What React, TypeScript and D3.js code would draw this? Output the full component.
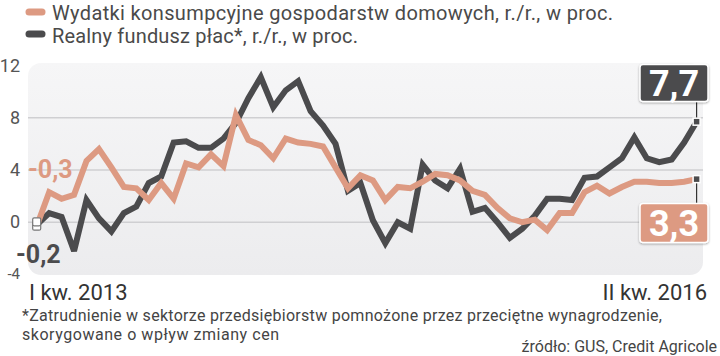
import React from "react";
import * as d3 from "d3";

const legendLabels = [
  "Wydatki konsumpcyjne gospodarstw domowych, r./r., w proc.",
  "Realny fundusz płac*, r./r., w proc.",
];
const yTicks = [12, 8, 4, 0, -4];
const gridTicks = [8, 4, 0];
const xLabels = ["I kw. 2013", "II kw. 2016"];

const consumption = [
  -0.3, 2.3, 1.8, 2.1, 4.7, 5.6, 4.2, 2.7, 2.6, 1.7, 3.0, 1.8, 4.5, 4.2, 5.2,
  4.3, 8.2, 6.3, 5.9, 4.9, 6.4, 6.1, 6.0, 5.8, 4.2, 2.6, 3.6, 3.2, 1.7, 2.7,
  2.6, 3.1, 3.7, 3.6, 3.2, 2.4, 2.1, 1.1, 0.3, 0.0, 0.2, -0.6, 0.7, 0.7, 2.3,
  2.8, 2.2, 2.7, 3.1, 3.1, 3.0, 3.0, 3.1, 3.3,
];
const wages = [
  -0.2, 0.7, 0.4, -2.2, 1.7, 0.3, -0.7, 0.7, 1.2, 3.0, 3.5, 6.1, 6.2, 5.7, 5.7,
  6.4, 7.6, 9.5, 11.1, 8.8, 10.1, 10.8, 8.5, 7.4, 6.0, 2.4, 3.0, 0.15, -1.6,
  0.0, -0.5, 4.4, 3.2, 2.6, 4.1, 0.8, 1.1, 0.0, -1.2, -0.5, 0.5, 1.8, 1.8, 1.7,
  3.4, 3.5, 4.2, 4.9, 6.5, 4.9, 4.6, 4.8, 6.1, 7.7,
];
const startLabels = ["-0,3", "-0,2"];
const endLabels = ["3,3", "7,7"];
const footnote = [
  "*Zatrudnienie w sektorze przedsiębiorstw pomnożone przez przeciętne wynagrodzenie,",
  "skorygowane o wpływ zmiany cen",
];
const source = "źródło: GUS, Credit Agricole";

const ORANGE = "#dd9a82";
const DARK = "#4b4b4d";
const FONT = "'Liberation Sans Narrow', 'Roboto', sans-serif";

export default function App() {
  const W = 720;
  const H = 356;
  const x = d3.scaleLinear().domain([0, consumption.length - 1]).range([36.7, 696.6]);
  const y = d3.scaleLinear().domain([-4, 12]).range([274.5, 65.5]);
  const line = d3
    .line<number>()
    .x((_, i) => x(i))
    .y((d) => y(d))
    .curve(d3.curveLinear);

  const last = consumption.length - 1;
  const plotL = 28;
  const plotR = 703;

  return (
    <svg
      width={W}
      height={H}
      style={{ position: "absolute", left: 0, top: 0, background: "#fff" }}
      fontFamily={FONT}
    >
      <defs>
        <linearGradient id="bg" x1="0" y1="0" x2="0" y2="1">
          <stop offset="0" stopColor="#f6f6f7" />
          <stop offset="1" stopColor="#ececee" />
        </linearGradient>
        <filter id="sh" x="-20%" y="-20%" width="140%" height="150%">
          <feDropShadow dx="0" dy="1" stdDeviation="1.2" floodColor="#000" floodOpacity="0.35" />
        </filter>
      </defs>

      {/* legend */}
      {[ORANGE, DARK].map((c, i) => (
        <g key={i}>
          <line
            x1={29}
            x2={42}
            y1={12 + i * 22}
            y2={12 + i * 22}
            stroke={c}
            strokeWidth={7}
            strokeLinecap="round"
          />
          <text
            x={52}
            y={20 + i * 23}
            fontSize={20}
            fill="#4a4a4a"
            textLength={i === 0 ? 561 : 306}
          >
            {legendLabels[i]}
          </text>
        </g>
      ))}

      {/* plot background */}
      <rect x={plotL} y={63} width={plotR - plotL} height={212} rx={13} fill="url(#bg)" />
      {gridTicks.map((t) => (
        <line key={t} x1={plotL} x2={plotR} y1={y(t)} y2={y(t)} stroke="#cfcfd2" strokeWidth={1.3} />
      ))}

      {/* y tick labels */}
      {yTicks.map((t) => (
        <text
          key={t}
          x={20}
          y={y(t) + (t === -4 ? 4 : 6)}
          fontSize={t === -4 ? 15 : 18}
          textAnchor="end"
          fill="#555"
        >
          {t}
        </text>
      ))}

      {/* lines */}
      <path d={line(wages) || ""} fill="none" stroke={DARK} strokeWidth={6} strokeLinejoin="miter" strokeMiterlimit={3} />
      <path d={line(consumption) || ""} fill="none" stroke={ORANGE} strokeWidth={6} strokeLinejoin="miter" strokeMiterlimit={3} />

      {/* start markers and labels */}
      <rect x={x(0) - 4} y={y(consumption[0]) - 4} width={8} height={8} rx={1.5} fill="#fff" stroke="#777" strokeWidth={1.2} />
      <rect x={x(0) - 4} y={y(wages[0]) - 7} width={8} height={8} rx={1.5} fill="#fff" stroke="#777" strokeWidth={1.2} />
      <text x={28} y={178} fontSize={25} fontWeight="bold" fill={ORANGE}>
        {startLabels[0]}
      </text>
      <text x={16} y={263} fontSize={25} fontWeight="bold" fill={DARK}>
        {startLabels[1]}
      </text>

      {/* end callouts */}
      <line x1={x(last)} x2={x(last)} y1={101} y2={y(wages[last])} stroke="#333" strokeWidth={1.2} />
      <line x1={x(last)} x2={x(last)} y1={y(consumption[last])} y2={204} stroke="#333" strokeWidth={1.2} />
      <rect x={x(last) - 3.5} y={y(wages[last]) - 3.5} width={7} height={7} fill={DARK} stroke="#fff" strokeWidth={1.5} />
      <rect x={x(last) - 3.5} y={y(consumption[last]) - 3.5} width={7} height={7} fill={DARK} stroke="#fff" strokeWidth={1.5} />

      <g filter="url(#sh)">
        <rect x={640} y={64.5} width={68} height={37} rx={3} fill={DARK} stroke="#fff" strokeWidth={1.5} />
        <rect x={640} y={203.5} width={68} height={39} rx={3} fill={ORANGE} stroke="#fff" strokeWidth={1.5} />
      </g>
      <text x={674} y={96} fontSize={36} fontWeight="bold" fill="#fff" textAnchor="middle">
        {endLabels[1]}
      </text>
      <text x={674} y={236} fontSize={36} fontWeight="bold" fill="#fff" textAnchor="middle">
        {endLabels[0]}
      </text>

      {/* x labels */}
      <text x={29} y={300} fontSize={22} fill="#333">
        {xLabels[0]}
      </text>
      <text x={707} y={300} fontSize={22} fill="#333" textAnchor="end">
        {xLabels[1]}
      </text>

      {/* footnote */}
      <text x={22} y={321} fontSize={16} fill="#444" textLength={640}>
        {footnote[0]}
      </text>
      <text x={22} y={340} fontSize={16} fill="#444" textLength={257}>
        {footnote[1]}
      </text>
      <text x={717} y={352} fontSize={16} fill="#444" textAnchor="end">
        {source}
      </text>
    </svg>
  );
}
